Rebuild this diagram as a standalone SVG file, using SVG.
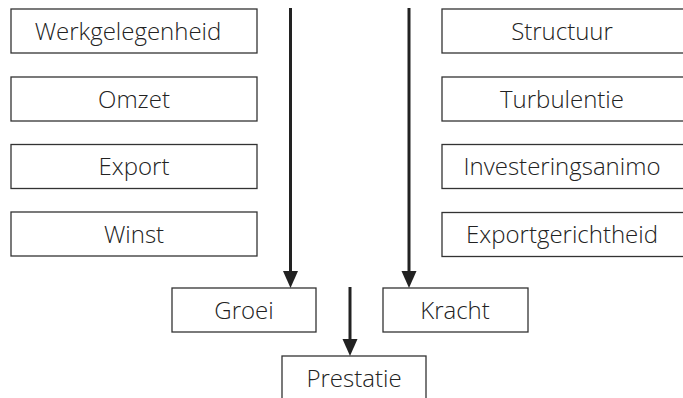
<svg xmlns="http://www.w3.org/2000/svg" width="683" height="398" viewBox="0 0 683 398">
<defs>
<style>
.box{fill:#fff;stroke:#333;stroke-width:1.3}
.lbl{font-family:"Open Sans","Noto Sans",sans-serif;font-size:24px;font-weight:300;fill:#222;text-anchor:middle}
.conn{stroke:#222;stroke-width:3;fill:none}
.head{fill:#222}
</style>
</defs>
<rect width="683" height="398" fill="#fff"/>
<g id="werkgelegenheid"><rect class="box" x="11" y="9" width="246" height="44"/><text class="lbl" x="128" y="39.5">Werkgelegenheid</text></g>
<g id="omzet"><rect class="box" x="11" y="77" width="246" height="44"/><text class="lbl" x="134" y="107.5">Omzet</text></g>
<g id="export"><rect class="box" x="11" y="144.5" width="246" height="44"/><text class="lbl" x="134" y="175">Export</text></g>
<g id="winst"><rect class="box" x="11" y="212" width="246" height="44"/><text class="lbl" x="134" y="242.5">Winst</text></g>
<g id="structuur"><rect class="box" x="442" y="9" width="250" height="44"/><text class="lbl" x="562" y="39.5">Structuur</text></g>
<g id="turbulentie"><rect class="box" x="442" y="77" width="250" height="44"/><text class="lbl" x="562" y="107.5">Turbulentie</text></g>
<g id="investeringsanimo"><rect class="box" x="442" y="144.5" width="250" height="44"/><text class="lbl" x="562" y="175">Investeringsanimo</text></g>
<g id="exportgerichtheid"><rect class="box" x="442" y="212.5" width="250" height="44"/><text class="lbl" x="562" y="243">Exportgerichtheid</text></g>
<g id="groei"><rect class="box" x="172" y="288" width="144" height="44"/><text class="lbl" x="244" y="318.5">Groei</text></g>
<g id="kracht"><rect class="box" x="383" y="288" width="145" height="44"/><text class="lbl" x="455" y="318.5">Kracht</text></g>
<g id="prestatie"><rect class="box" x="282" y="356" width="144" height="50"/><text class="lbl" x="354" y="386.5">Prestatie</text></g>
<g id="connectors">
<line class="conn" x1="290.5" y1="8" x2="290.5" y2="274"/>
<polygon class="head" points="283,271 298,271 290.5,288"/>
<line class="conn" x1="409" y1="8" x2="409" y2="274"/>
<polygon class="head" points="401.5,271 416.5,271 409,288"/>
<line class="conn" x1="350" y1="287" x2="350" y2="342"/>
<polygon class="head" points="342.5,339 357.5,339 350,356"/>
</g>
</svg>
